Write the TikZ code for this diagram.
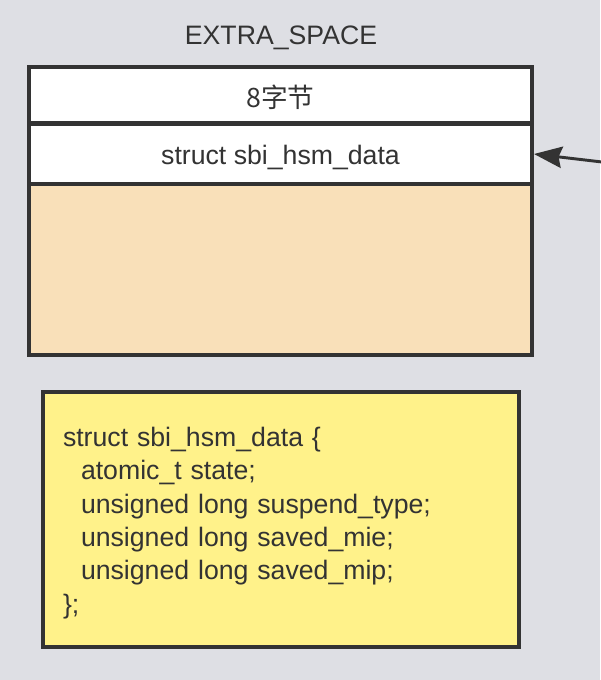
\documentclass[tikz,border=0pt]{standalone}
\usepackage{fontspec}
\setmainfont{Liberation Sans}
\newfontfamily\cjk{Noto Sans CJK SC}
\usetikzlibrary{arrows.meta}

\definecolor{bggray}{RGB}{222,223,228}
\definecolor{edge}{RGB}{51,51,51}
\definecolor{peach}{RGB}{249,224,185}
\definecolor{codeyellow}{RGB}{255,242,138}

\tikzset{
  cell/.style={draw=edge, line width=3pt, fill=white, inner sep=0pt,
    minimum width=377.25pt, text=edge},
  ptr/.style={draw=edge, line width=2.2pt,
    -{Stealth[length=21pt, width=16pt, inset=2.5pt]}}
}

\begin{document}
\begin{tikzpicture}[x=0.75pt, y=-0.75pt, font=\fontsize{20}{25}\selectfont]

% Background
\fill [bggray] ( 0, 0 ) rectangle ( 600, 680 );
\useasboundingbox ( 0, 0 ) rectangle ( 600, 680 );

% Extra space block
\node [text=edge] (title) at ( 281, 38 ) {EXTRA\_SPACE};

\node [cell, fill=peach, minimum height=128.25pt] (rest) at ( 280.5, 269.5 ) {};
\node [cell, minimum height=45pt] (hsm) at ( 280.5, 154 ) {};
\node [text=edge] (hsmtext) at ( 280.5, 157 ) {struct sbi\_hsm\_data};
\node [cell, minimum height=42pt] (bytes) at ( 280.5, 95 ) {};
\node [text=edge] (bytestext) at ( 280.5, 97 ) {\cjk 8字节};

% Pointer from the right
\coordinate (src) at ( 602, 162 );
\draw [ptr] (src) -- (hsm.east);

% Struct definition
\node [draw=edge, line width=3pt, fill=codeyellow, text=edge,
  minimum width=357pt, minimum height=191.25pt, inner xsep=15pt,
  text width=327pt, align=left] (code) at ( 281, 519.5 ) {};
\node [text=edge, text width=327pt, align=left] (codetext) at ( 281, 523 )
  {struct sbi\_hsm\_data \{\\
   \hspace*{13.5pt}atomic\_t state;\\
   \hspace*{13.5pt}unsigned long suspend\_type;\\
   \hspace*{13.5pt}unsigned long saved\_mie;\\
   \hspace*{13.5pt}unsigned long saved\_mip;\\
   \};};

\end{tikzpicture}
\end{document}
